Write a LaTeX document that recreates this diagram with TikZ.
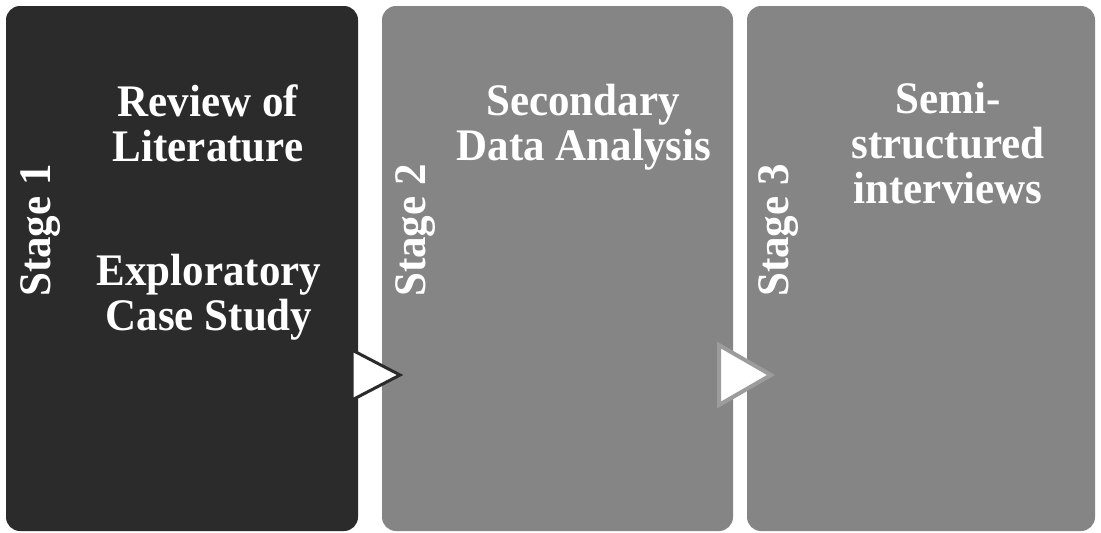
\documentclass[tikz,border=0pt]{standalone}
\usepackage{fontspec}
\setmainfont{Liberation Serif}
\definecolor{darkpanel}{HTML}{2B2B2B}
\definecolor{greypanel}{HTML}{858585}
\definecolor{greyedge}{HTML}{9C9C9C}
% bold white heading text, slightly taller than the plain face
\newcommand{\tallbf}[1]{\scalebox{1}[1.05]{#1}}
\begin{document}
\begin{tikzpicture}[x=1pt,y=-1pt,
  panel/.style={rounded corners=14pt},
  headline/.style={font=\fontsize{43}{45}\selectfont\bfseries, text=white, inner sep=0pt, anchor=base},
  stagelbl/.style={font=\fontsize{43}{45}\selectfont\bfseries, text=white, rotate=90, anchor=base west, inner sep=0pt},
  flow/.style={fill=white, line join=miter}]
\useasboundingbox (0,0) rectangle (1101,533);
\fill[white] (0,0) rectangle (1101,533);

% three stage panels
\fill[panel, darkpanel] (6,6) rectangle (358,531);
\fill[panel, greypanel] (382,6) rectangle (733,531);
\fill[panel, greypanel] (747,6) rectangle (1095,531);

% stage 1
\node[stagelbl] (s1) at (50,297) {\tallbf{Stage 1}};
\node[headline] (l1a) at (208,116) {\tallbf{Review of}};
\node[headline] (l1b) at (208,161) {\tallbf{Literature}};
\node[headline] (l1c) at (209,285) {\tallbf{Exploratory}};
\node[headline] (l1d) at (209,330) {\tallbf{Case Study}};

% stage 2
\node[stagelbl] (s2) at (425,297) {\tallbf{Stage 2}};
\node[headline] (l2a) at (583,115) {\tallbf{Secondary}};
\node[headline] (l2b) at (584,160) {\tallbf{Data Analysis}};

% stage 3
\node[stagelbl] (s3) at (788,297) {\tallbf{Stage 3}};
\node[headline] (l3a) at (948,113) {\tallbf{Semi-}};
\node[headline] (l3b) at (948,158) {\tallbf{structured}};
\node[headline] (l3c) at (948,203) {\tallbf{interviews}};

% flow markers between the panels
\coordinate (a1t) at (352,350);
\coordinate (a1p) at (400,375);
\coordinate (a1b) at (352,400);
\draw[flow, draw=darkpanel, line width=3pt] (a1t) -- (a1p) -- (a1b) -- cycle;
\coordinate (a2t) at (719,345);
\coordinate (a2p) at (771,375);
\coordinate (a2b) at (719,405);
\draw[flow, draw=greyedge, line width=4pt] (a2t) -- (a2p) -- (a2b) -- cycle;
\end{tikzpicture}
\end{document}
